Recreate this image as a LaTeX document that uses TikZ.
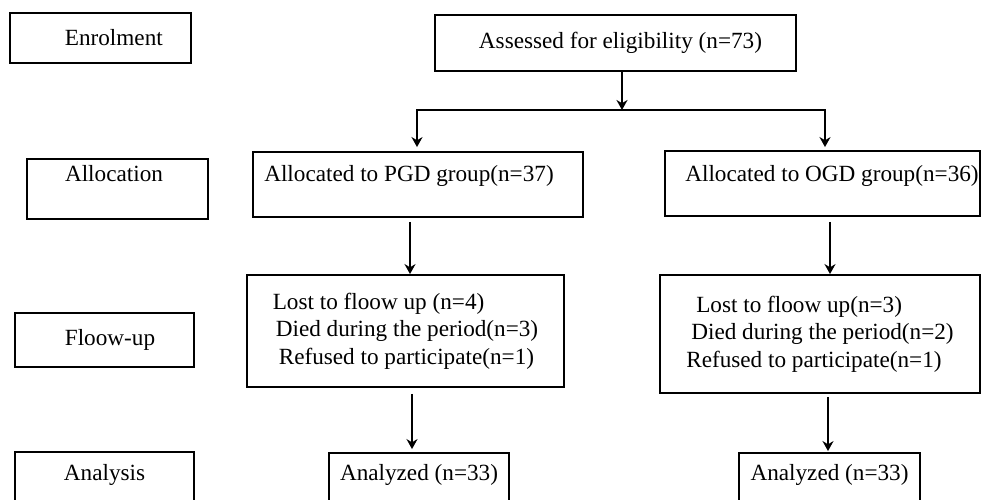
\documentclass[tikz,border=0pt]{standalone}
\usepackage{fontspec}
\setmainfont{Liberation Serif}
\usetikzlibrary{arrows.meta, positioning, calc}

\tikzset{
  box/.style={draw=black, line width=1.6pt, inner sep=0pt, font=\fontsize{19.8}{23.5}\selectfont},
  uptext/.style={text height=4.6mm, text depth=#1},
  arr/.style={-{Stealth[length=3mm, width=3.3mm]}, line width=2.3pt},
}

\begin{document}
\begin{tikzpicture}[x=0.3mm, y=-0.3mm]
  \useasboundingbox (0,0) rectangle (982,500);
  \clip (0,0) rectangle (982,500);
  % Etapas (columna izquierda)
  \node[box, minimum width=54.3mm, minimum height=15mm] (enrol) at (100.5,38) {\hspace*{8mm}Enrolment};
  \node[box, uptext=9mm, minimum width=54.3mm, minimum height=18mm] (alloc) at (117.5,189) {Allocation\hspace*{2.1mm}};
  \node[box, minimum width=53.7mm, minimum height=16.2mm] (follow) at (104.5,340) {\hspace*{3.3mm}Floow-up};
  \node[box, uptext=5.4mm, minimum width=53.7mm, minimum height=18mm] (analysis) at (104.5,482) {Analysis};
  % Cribado
  \node[box, minimum width=108.3mm, minimum height=16.8mm] (assess) at (615.5,43) {\hspace*{3mm}Assessed for eligibility (n=73)};
  % Grupos
  \node[box, uptext=6.3mm, minimum width=99mm, minimum height=19.5mm] (pgd) at (418,184.5) {Allocated to PGD group(n=37)\hspace*{5.4mm}};
  \node[box, uptext=5.7mm, minimum width=94.5mm, minimum height=19.5mm] (ogd) at (822.5,183.5) {\hspace*{5.7mm}Allocated to OGD group(n=36)};
  % Seguimiento
  \node[box, align=left, minimum width=95.1mm, minimum height=33.6mm] (pgdfu) at (405.5,331)
    {Lost to floow up (n=4)\\\hspace*{0.9mm}Died during the period(n=3)\\\hspace*{1.8mm}Refused to participate(n=1)};
  \node[box, align=left, minimum width=96mm, minimum height=35.4mm] (ogdfu) at (820,334)
    {\hspace*{3mm}Lost to floow up(n=3)\\\hspace*{1.5mm}Died during the period(n=2)\\Refused to participate(n=1)};
  % Analisis
  \node[box, uptext=5.7mm, minimum width=54mm, minimum height=17.7mm] (pgdan) at (419,482.5) {Analyzed (n=33)};
  \node[box, uptext=5.7mm, minimum width=54.3mm, minimum height=17.7mm] (ogdan) at (829.5,482.5) {Analyzed (n=33)};
  % Conectores
  \coordinate (split) at (622,110);
  \coordinate (tolft) at (417,110);
  \coordinate (torgt) at (825,110);
  \draw[arr] (assess.south -| split) -- (split);
  \draw[{Stealth[length=3mm, width=3.3mm]}-{Stealth[length=3mm, width=3.3mm]}, line width=2.3pt, shorten <=1.2mm, shorten >=0.9mm]
    (pgd.north -| tolft) -- (tolft) -- (torgt) -- (ogd.north -| torgt);
  \draw[arr, shorten <=1.2mm] ([xshift=-2.4mm]pgd.south) -- ([xshift=-2.4mm]pgd.south |- pgdfu.north);
  \draw[arr, shorten <=1.5mm] ([xshift=2.25mm]ogd.south) -- ([xshift=2.25mm]ogd.south |- ogdfu.north);
  \draw[arr, shorten <=1.8mm, shorten >=0.9mm] ([xshift=1.95mm]pgdfu.south) -- ([xshift=1.95mm]pgdfu.south |- pgdan.north);
  \draw[arr, shorten <=0.9mm, shorten >=0.3mm] ([xshift=2.4mm]ogdfu.south) -- ([xshift=2.4mm]ogdfu.south |- ogdan.north);
\end{tikzpicture}
\end{document}
